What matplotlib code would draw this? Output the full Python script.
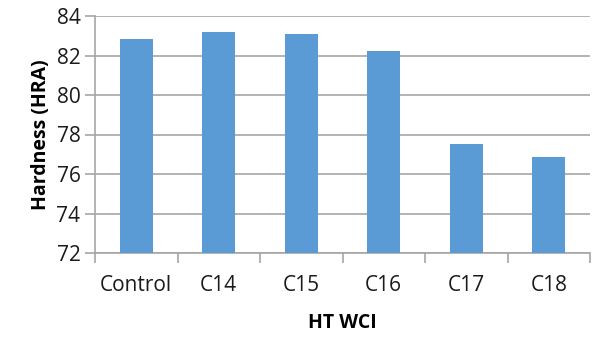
import matplotlib.pyplot as plt
from matplotlib.ticker import FixedLocator

categories = ['Control', 'C14', 'C15', 'C16', 'C17', 'C18']
hardness = [82.84, 83.2, 83.08, 82.25, 77.53, 76.86]
y_ticks = [72, 74, 76, 78, 80, 82, 84]

plt.rcParams['font.family'] = ['Open Sans', 'DejaVu Sans']

fig = plt.figure(figsize=(5.98, 3.38), dpi=100)
ax = fig.add_axes([95 / 598, 1 - 253 / 338, (590 - 95) / 598, (253 - 16) / 338])

x = list(range(len(categories)))
ax.bar(x, [h - 72 for h in hardness], bottom=72, width=0.4, color='#5b9bd5', zorder=3)

ax.set_ylim(72, 84)
ax.set_xlim(-0.5, len(categories) - 0.5)
ax.set_yticks(y_ticks)
ax.set_xticks(x)
ax.set_xticklabels(categories)
ax.xaxis.set_minor_locator(FixedLocator([i - 0.5 for i in range(len(categories) + 1)]))

ax.grid(axis='y', color='#a6a6a6', linewidth=1.2, zorder=0)
for s in ['top', 'right']:
    ax.spines[s].set_visible(False)
ax.spines['left'].set_color('#a6a6a6')
ax.spines['bottom'].set_color('#a6a6a6')
ax.spines['left'].set_linewidth(1.2)
ax.spines['bottom'].set_linewidth(1.2)

ax.tick_params(axis='x', which='major', length=0, labelsize=15, pad=16, colors='#1a1a1a')
ax.tick_params(axis='x', which='minor', length=7, color='#a6a6a6', width=1.2)
ax.tick_params(axis='y', length=7, color='#a6a6a6', width=1.2, labelsize=15, labelcolor='#1a1a1a')

ax.set_ylabel('Hardness (HRA)', fontsize=14, fontweight='bold', labelpad=4)
ax.set_xlabel('HT WCI', fontsize=14, fontweight='bold', labelpad=12)

fig.savefig('out.png', dpi=100)
